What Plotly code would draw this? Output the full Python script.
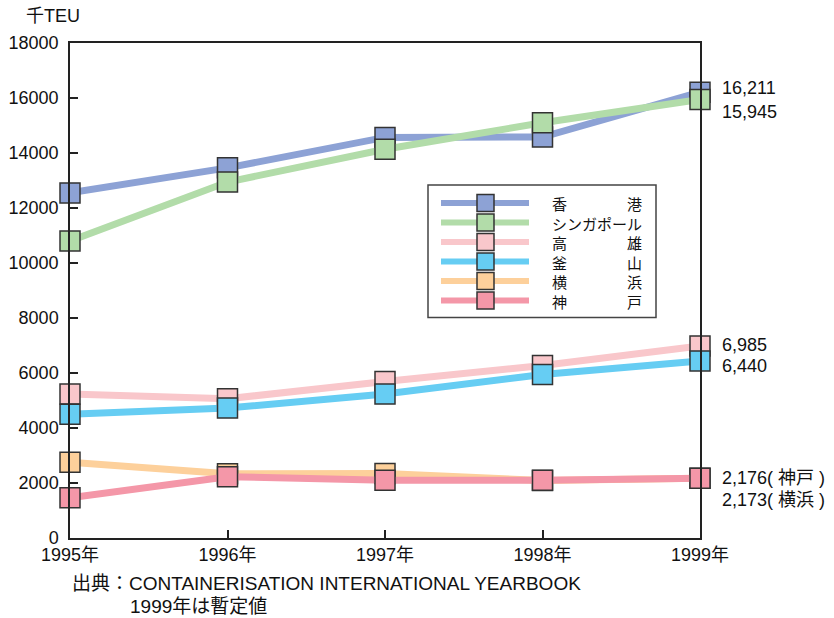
import plotly.graph_objects as go

years = [1995, 1996, 1997, 1998, 1999]
year_labels = ["1995年", "1996年", "1997年", "1998年", "1999年"]

ports = ["香　　　　港", "シンガポール", "高　　　　雄", "釜　　　　山", "横　　　　浜", "神　　　　戸"]
hongkong = [12550, 13460, 14567, 14582, 16211]
singapore = [10800, 12944, 14135, 15100, 15945]
kaohsiung = [5232, 5063, 5693, 6271, 6985]
busan = [4503, 4725, 5234, 5946, 6440]
yokohama = [2757, 2334, 2347, 2091, 2173]
kobe = [1464, 2229, 2099, 2101, 2176]
series = [hongkong, singapore, kaohsiung, busan, yokohama, kobe]
colors = ["#8DA2D5", "#B2DCA9", "#F9C7CB", "#66CDF3", "#FDD09B", "#F497A8"]

end_suffix = ["", "", "", "", "( 横浜 )", "( 神戸 )"]
end_shift = [4, -12, 1, -5, -22, 0]

FONT = "Liberation Sans, Arial, Noto Sans CJK JP, sans-serif"
W, H = 834, 618
L, R, T, B = 70, 134, 43, 80
PW, PH = W - L - R, H - T - B


def px_x(p):
    return (p - L) / PW


def px_y(p):
    return (T + PH - p) / PH


fig = go.Figure()
for name, vals, col in zip(ports, series, colors):
    fig.add_trace(go.Scatter(
        x=years, y=vals, name=name, mode="lines+markers",
        line=dict(color=col, width=7),
        marker=dict(symbol="square", size=20, color=col, line=dict(color="#333333", width=1.5)),
        cliponaxis=False, showlegend=False,
    ))

annotations = []
shapes = []
for vals, suf, ys in zip(series, end_suffix, end_shift):
    annotations.append(dict(
        x=years[-1], y=vals[-1], xref="x", yref="y",
        text=f"{vals[-1]:,}{suf}", showarrow=False,
        xanchor="left", yanchor="middle", xshift=20, yshift=ys,
        font=dict(size=18, color="#111", family=FONT),
    ))
annotations.append(dict(
    x=px_x(24), y=px_y(16), xref="paper", yref="paper",
    text="千TEU", showarrow=False, xanchor="left", yanchor="middle",
    font=dict(size=18, color="#111", family=FONT)))
annotations.append(dict(
    x=0, y=px_y(583), xref="paper", yref="paper",
    text="出典：CONTAINERISATION INTERNATIONAL YEARBOOK", showarrow=False,
    xanchor="left", yanchor="middle", font=dict(size=19, color="#111", family=FONT)))
annotations.append(dict(
    x=px_x(128), y=px_y(606), xref="paper", yref="paper",
    text="1999年は暫定値", showarrow=False,
    xanchor="left", yanchor="middle", font=dict(size=19, color="#111", family=FONT)))

# legend (drawn as layout decoration)
LEG_FS = 15
row_gap = LEG_FS * 1.3
row0 = 203
row_y = [row0 + i * row_gap for i in range(len(ports))]
shapes.append(dict(type="rect", xref="paper", yref="paper",
                   x0=px_x(428), x1=px_x(656), y0=px_y(row_y[-1] + 17), y1=px_y(185),
                   line=dict(color="#444", width=1.5), fillcolor="white", layer="above"))
for col, ry in zip(colors, row_y):
    shapes.append(dict(type="line", xref="paper", yref="paper",
                       x0=px_x(441), x1=px_x(529), y0=px_y(ry), y1=px_y(ry),
                       line=dict(color=col, width=6), layer="above"))
    shapes.append(dict(type="rect", xref="paper", yref="paper",
                       x0=px_x(477), x1=px_x(494), y0=px_y(ry + 8.5), y1=px_y(ry - 8.5),
                       line=dict(color="#333", width=1.5), fillcolor=col, layer="above"))
annotations.append(dict(
    x=px_x(550), y=px_y((row_y[0] + row_y[-1]) / 2 + 1), xref="paper", yref="paper",
    text="<br>".join(ports), showarrow=False, xanchor="left", yanchor="middle",
    align="left",
    font=dict(size=LEG_FS, color="#111", family="Noto Sans CJK JP, sans-serif")))

fig.update_layout(
    width=W, height=H,
    margin=dict(l=L, r=R, t=T, b=B),
    paper_bgcolor="white", plot_bgcolor="white",
    font=dict(family=FONT, size=18, color="#111"),
    showlegend=False,
    annotations=annotations,
    shapes=shapes,
)
fig.update_xaxes(
    range=[1995, 1999], tickvals=years, ticktext=year_labels,
    showgrid=False, zeroline=False, showline=True, linecolor="#222", linewidth=1.5,
    mirror=True, ticks="inside", ticklen=8, tickcolor="#222", tickwidth=1.5,
    tickfont=dict(size=18), automargin=False,
)
fig.update_yaxes(
    range=[0, 18000], dtick=2000, tickformat="d",
    showgrid=False, zeroline=False, showline=True, linecolor="#222", linewidth=1.5,
    mirror=True, ticks="inside", ticklen=8, tickcolor="#222", tickwidth=1.5,
    tickfont=dict(size=18), ticklabelstandoff=6, automargin=False,
)

fig.write_html("out.html", config={"displayModeBar": False},
               post_script="document.body.style.margin='0px';")
